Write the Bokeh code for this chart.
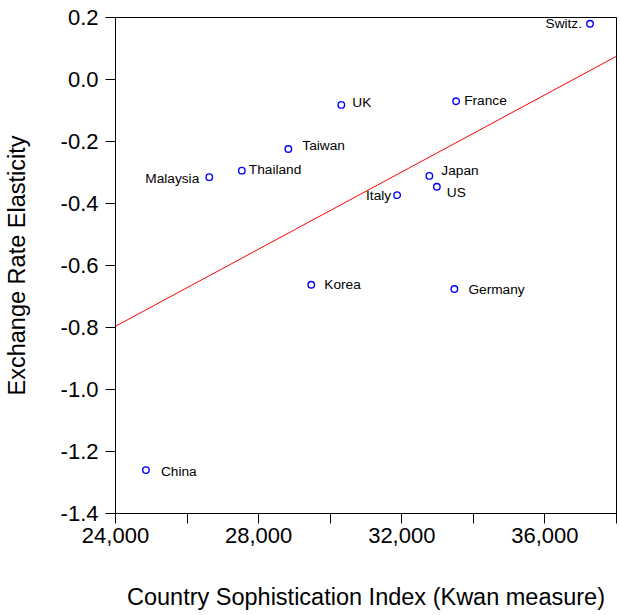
from bokeh.plotting import figure
from bokeh.models import ColumnDataSource, Range1d, FixedTicker, NumeralTickFormatter
from bokeh.core.properties import value
from bokeh.embed import file_html
from bokeh.resources import INLINE

# ---- data ----
countries = ["Switz.", "France", "Japan", "US", "UK", "Taiwan", "Thailand",
             "Malaysia", "Italy", "Korea", "Germany", "China"]
sophistication = [37260, 33520, 32770, 32980, 30310, 28830, 27530,
                  26620, 31870, 29470, 33470, 24850]
elasticity = [0.18, -0.07, -0.311, -0.346, -0.082, -0.224, -0.294,
              -0.315, -0.373, -0.662, -0.676, -1.26]
fit_x = [24000, 38000]
fit_y = [-0.796, 0.075]
x_ticks = [24000, 28000, 32000, 36000]
x_minor = [26000, 30000, 34000, 38000]
y_ticks = [-1.4, -1.2, -1.0, -0.8, -0.6, -0.4, -0.2, 0.0, 0.2]

# ---- label styling (screen offsets) ----
lab_dx = [-8, 8, 12, 10, 11, 14, 7, -10, -6, 13, 14, 15]
lab_dy = [-0.7, -1, -5.3, 5.7, -2.4, -3, -0.7, 1.7, 0, -0.7, 0, 1]
lab_align = ["right", "left", "left", "left", "left", "left", "left",
             "right", "right", "left", "left", "left"]

FONT = "Liberation Sans"

src = ColumnDataSource(dict(x=sophistication, y=elasticity, name=countries,
                            dx=lab_dx, dy=lab_dy, align=lab_align))

p = figure(width=618, height=612, output_backend="svg", toolbar_location=None,
           x_range=Range1d(24000, 38000), y_range=Range1d(-1.4, 0.2),
           min_border_left=114, min_border_right=2, min_border_top=17,
           min_border_bottom=98)

p.background_fill_color = "white"
p.border_fill_color = "white"
p.outline_line_color = "black"
p.outline_line_width = 1
p.grid.visible = False

p.line(fit_x, fit_y, line_color="#ff0000", line_width=1)

p.scatter("x", "y", source=src, marker="circle", size=6.5,
          fill_color=None, line_color="#0000ff", line_width=1.4)

p.text("x", "y", text="name", source=src, x_offset="dx", y_offset="dy",
       text_align="align", text_baseline="middle",
       text_font=value(FONT), text_font_size="13.7px", text_color="black")

# axes
xa = p.xaxis[0]
xa.ticker = FixedTicker(ticks=x_ticks, minor_ticks=x_minor)
xa.formatter = NumeralTickFormatter(format="0,0")
xa.axis_label = "Country Sophistication Index (Kwan measure)"
ya = p.yaxis[0]
ya.ticker = FixedTicker(ticks=y_ticks)
ya.formatter = NumeralTickFormatter(format="0.0")
ya.axis_label = "Exchange Rate Elasticity"

for ax in (xa, ya):
    ax.axis_line_color = "black"
    ax.major_tick_line_color = "black"
    ax.major_tick_in = 0
    ax.major_tick_out = 10
    ax.minor_tick_in = 0
    ax.minor_tick_out = 10
    ax.minor_tick_line_color = "black"
    ax.major_label_text_font = FONT
    ax.major_label_text_font_size = "22px"
    ax.major_label_text_color = "black"
    ax.axis_label_text_font = FONT
    ax.axis_label_text_font_size = "23.5px"
    ax.axis_label_text_font_style = "normal"
    ax.axis_label_text_color = "black"

ya.minor_tick_line_color = None
ya.major_label_standoff = 7
xa.major_label_standoff = 4
ya.axis_label_standoff = 28
xa.axis_label_standoff = 38

open("out.html", "w").write(file_html(p, INLINE))
